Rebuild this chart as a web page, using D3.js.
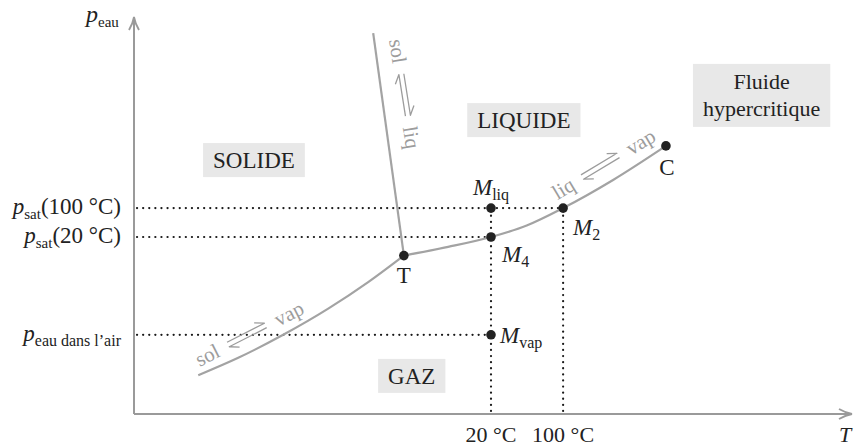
<!DOCTYPE html>
<html lang="fr">
<head>
<meta charset="utf-8">
<script src="https://cdn.jsdelivr.net/npm/d3@7"></script>
<style>
  html, body { margin: 0; padding: 0; background: #fff; }
  svg { display: block; }
  text { font-family: "Liberation Serif", "DejaVu Serif", serif; fill: #222; }
</style>
</head>
<body>
<svg id="chart" width="855" height="447"></svg>
<script>
// Diagramme de phases de l'eau (schématique) : T en abscisse, p_eau en ordonnée.

// Courbe sol ⇌ vap (sublimation), jusqu'au point triple
const sublimationT = [9.0, 14.6, 20.9, 27.2, 32.8, 37.8];
const sublimationP = [9.8, 14.2, 20.0, 26.6, 33.3, 40.0];

// Courbe liq ⇌ vap (vaporisation), du point triple au point critique
const vaporisationT = [37.8, 44.0, 50.0, 55.0, 60.1, 67.1, 74.5];
const vaporisationP = [40.0, 42.2, 44.7, 47.6, 52.0, 59.1, 67.7];

// Courbe sol ⇌ liq (fusion), quasi verticale
const fusionT = [37.8, 33.5];
const fusionP = [40.0, 96.2];

// Niveaux de pression repérés sur l'axe vertical
const pLevels = [52.0, 44.7, 20.0];
const pLevelSubs = ["sat", "sat", "eau dans l’air"];
const pLevelArgs = ["(100 °C)", "(20 °C)", ""];
const pLevelEnds = [60.1, 50.0, 50.0];

// Températures repérées sur l'axe horizontal
const tempLevels = [50.0, 60.1];
const tempLabels = ["20 °C", "100 °C"];
const tempTops = [52.0, 52.0];

// Points remarquables
const pointNames = ["T", "M", "M", "M", "M", "C"];
const pointSubs = ["", "liq", "4", "2", "vap", ""];
const pointT = [37.8, 50.0, 50.0, 60.1, 50.0, 74.5];
const pointP = [40.0, 52.0, 44.7, 52.0, 20.0, 67.7];

// Domaines
const regionNames = [["SOLIDE"], ["LIQUIDE"], ["GAZ"], ["Fluide", "hypercritique"]];
const regionT = [16.8, 54.6, 38.9, 87.9];
const regionP = [62.1, 72.2, 7.6, 82.1];

// Légendes des courbes d'équilibre
const curveLeft = ["sol", "sol", "liq"];
const curveRight = ["vap", "liq", "vap"];
const curveT = [9.2, 35.7, 59.3];
const curveP = [11.9, 94.4, 54.0];

// ---------------------------------------------------------------
const svg = d3.select("#chart");
const x = d3.scaleLinear().domain([0, 100]).range([134, 848]);
const y = d3.scaleLinear().domain([0, 100]).range([414, 18]);

const AXIS = "#9a9a9a";
const CURVE = "#a3a3a3";
const LABEL_GRAY = "#9c9c9c";

// Place un texte mathématique : symbole (italique ou non) + indice éventuel + suite
function mathText(sel, parts, size) {
  parts.forEach(p => {
    const ts = sel.append("tspan").text(p.t);
    if (p.italic) ts.attr("font-style", "italic");
    if (p.sub) ts.attr("font-size", p.subSize || 15).attr("dy", 5);
    else ts.attr("font-size", size);
    if (p.back) ts.attr("dy", -5);
  });
}

// Axes avec flèches
const axes = svg.append("g");
axes.append("line")
  .attr("x1", x(0)).attr("y1", y(0)).attr("x2", x(0)).attr("y2", y(100))
  .attr("stroke", AXIS).attr("stroke-width", 2);
axes.append("line")
  .attr("x1", x(0)).attr("y1", y(0)).attr("x2", x(100) + 3).attr("y2", y(0))
  .attr("stroke", AXIS).attr("stroke-width", 2);
// pointe verticale
axes.append("path")
  .attr("d", `M${x(0) - 5},${y(100) + 12} Q${x(0) - 1},${y(100) + 5} ${x(0)},${y(100) - 1} Q${x(0) + 1},${y(100) + 5} ${x(0) + 5},${y(100) + 12}`)
  .attr("fill", "none").attr("stroke", AXIS).attr("stroke-width", 1.8);
// pointe horizontale
axes.append("path")
  .attr("d", `M${x(100) - 9},${y(0) - 5} Q${x(100) - 2},${y(0) - 1} ${x(100) + 4},${y(0)} Q${x(100) - 2},${y(0) + 1} ${x(100) - 9},${y(0) + 5}`)
  .attr("fill", "none").attr("stroke", AXIS).attr("stroke-width", 1.8);

// Titres des axes
const yTitle = svg.append("text").attr("x", 86).attr("y", 22);
mathText(yTitle, [{ t: "p", italic: true }, { t: "eau", sub: true, subSize: 15 }], 24);
svg.append("text").attr("x", 839).attr("y", 442)
  .attr("font-style", "italic").attr("font-size", 22).text("T");

// Pointillés de repérage
const dots = svg.append("g")
  .attr("stroke", "#1a1a1a").attr("stroke-width", 2.2)
  .attr("stroke-linecap", "round").attr("stroke-dasharray", "0.1 6");
dots.selectAll("line.h").data(pLevels).join("line").attr("class", "h")
  .attr("x1", x(0) + 3).attr("x2", (d, i) => x(pLevelEnds[i]))
  .attr("y1", d => y(d)).attr("y2", d => y(d));
dots.selectAll("line.v").data(tempLevels).join("line").attr("class", "v")
  .attr("x1", d => x(d)).attr("x2", d => x(d))
  .attr("y1", y(0) - 3).attr("y2", (d, i) => y(tempTops[i]));

// Étiquettes des niveaux de pression
pLevels.forEach((p, i) => {
  const t = svg.append("text").attr("x", 121).attr("y", y(p) + 6).attr("text-anchor", "end");
  const parts = [{ t: "p", italic: true }, { t: pLevelSubs[i], sub: true, subSize: i === 2 ? 16 : 15 }];
  if (pLevelArgs[i]) parts.push({ t: pLevelArgs[i], back: true });
  mathText(t, parts, 23);
});

// Étiquettes des températures
svg.selectAll("text.tick").data(tempLevels).join("text").attr("class", "tick")
  .attr("x", d => x(d)).attr("y", 442).attr("text-anchor", "middle")
  .attr("font-size", 22).text((d, i) => tempLabels[i]);

// Courbes d'équilibre
const line = d3.line().x(d => x(d[0])).y(d => y(d[1])).curve(d3.curveMonotoneX);
const curves = svg.append("g").attr("fill", "none").attr("stroke", CURVE).attr("stroke-width", 2.2);
curves.append("path").attr("d", line(d3.zip(sublimationT, sublimationP)));
curves.append("path").attr("d", line(d3.zip(vaporisationT, vaporisationP)));
curves.append("path").attr("d", d3.line().x(d => x(d[0])).y(d => y(d[1]))(d3.zip(fusionT, fusionP)));

// Légendes des courbes : « a ⇌ b » avec double harpon
const curveAngles = [-27, 81, -31];
curveLeft.forEach((l, i) => {
  const g = svg.append("g")
    .attr("transform", `translate(${x(curveT[i])},${y(curveP[i])}) rotate(${curveAngles[i]})`);
  const t1 = g.append("text").attr("x", 0).attr("y", 0).attr("font-size", 21)
    .style("fill", LABEL_GRAY).text(l);
  const w1 = t1.node().getComputedTextLength();
  const h0 = w1 + 11, h1 = h0 + 42;
  const ya = -9.5, yb = -4.5;
  g.append("path")
    .attr("d", `M${h0},${ya} L${h1},${ya} L${h1 - 9},${ya - 5} M${h1},${yb} L${h0},${yb} L${h0 + 9},${yb + 5}`)
    .attr("fill", "none").attr("stroke", LABEL_GRAY).attr("stroke-width", 1.3)
    .attr("stroke-linejoin", "round");
  g.append("text").attr("x", h1 + 11).attr("y", 0).attr("font-size", 21)
    .style("fill", LABEL_GRAY).text(curveRight[i]);
});

// Domaines (étiquettes sur fond gris)
regionNames.forEach((lines, i) => {
  const g = svg.append("g");
  const t = g.append("text").attr("text-anchor", "middle").attr("font-size", 23);
  lines.forEach((s, k) => {
    t.append("tspan").attr("x", x(regionT[i])).attr("y", y(regionP[i]) + k * 27)
      .attr("font-size", lines.length > 1 ? 22 : 23).text(s);
  });
  const b = t.node().getBBox();
  g.insert("rect", "text")
    .attr("x", b.x - 10).attr("y", b.y - 5)
    .attr("width", b.width + 20).attr("height", b.height + (lines.length > 1 ? 11 : 9))
    .attr("fill", "#e8e8e8");
});

// Points remarquables
const pointOffsets = [[0, 27, "middle"], [-18, -13, "start"], [11, 25, "start"], [10, 27, "start"], [9, 8, "start"], [1, 29, "middle"]];
pointNames.forEach((n, i) => {
  svg.append("circle").attr("cx", x(pointT[i])).attr("cy", y(pointP[i])).attr("r", 4.8).attr("fill", "#222");
  const o = pointOffsets[i];
  const t = svg.append("text").attr("x", x(pointT[i]) + o[0]).attr("y", y(pointP[i]) + o[1])
    .attr("text-anchor", o[2]);
  const parts = [{ t: n, italic: n === "M" }];
  if (pointSubs[i]) parts.push({ t: pointSubs[i], sub: true, subSize: 16 });
  mathText(t, parts, 23);
});
</script>
</body>
</html>
